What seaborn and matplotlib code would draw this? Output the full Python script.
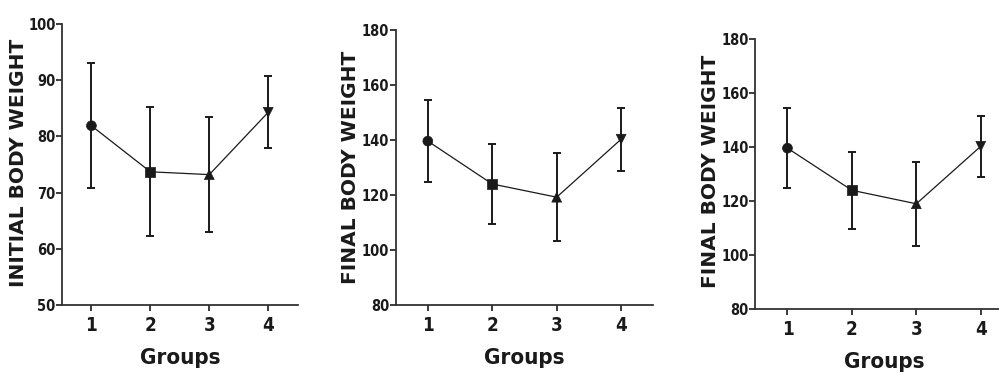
"""
Body weight per group: initial vs final (mean ± SD), three panels.
"""

import matplotlib
matplotlib.use("Agg")
import matplotlib.pyplot as plt
import seaborn as sns
import pandas as pd

groups = [1, 2, 3, 4]
group_markers = {1: "o", 2: "s", 3: "^", 4: "v"}

initial_mean = [81.9, 73.7, 73.2, 84.3]
initial_sd = [11.1, 11.5, 10.3, 6.4]

final_mean = [139.6, 124.0, 119.2, 140.3]
final_sd = [15.0, 14.5, 16.0, 11.4]

final_mean_b = [139.6, 124.0, 119.0, 140.3]
final_sd_b = [14.8, 14.3, 15.6, 11.2]

panels = [
    ("INITIAL BODY WEIGHT", initial_mean, initial_sd, (50, 100), [50, 60, 70, 80, 90, 100]),
    ("FINAL BODY WEIGHT", final_mean, final_sd, (80, 180), [80, 100, 120, 140, 160, 180]),
    ("FINAL BODY WEIGHT", final_mean_b, final_sd_b, (80, 180), [80, 100, 120, 140, 160, 180]),
]

# axes boxes in figure fractions (left, bottom, width, height)
boxes = [
    (0.062, 0.189, 0.236, 0.747),
    (0.396, 0.189, 0.258, 0.731),
    (0.756, 0.178, 0.258, 0.718),
]
# y-label centres in figure pixels (x) and fractions (y)
ylabel_x = [19, 350, 710]
ylabel_y = [0.568, 0.556, 0.544]

sns.set_style("ticks")
plt.rcParams["font.family"] = ["DejaVu Sans"]

INK = "#1a1a1a"
COND = dict(family="DejaVu Sans", fontstretch="condensed", fontweight="bold", color=INK)

fig = plt.figure(figsize=(9.99, 3.76), dpi=100)

for (ylabel, means, sds, ylim, yticks), box, lx, ly in zip(panels, boxes, ylabel_x, ylabel_y):
    ax = fig.add_axes(box)
    df = pd.DataFrame({"group": groups, "weight": means, "sd": sds})

    ax.errorbar(df["group"], df["weight"], yerr=df["sd"], fmt="none",
                ecolor=INK, elinewidth=1.4, capsize=2.6, capthick=1.4, zorder=2)
    sns.lineplot(data=df, x="group", y="weight", ax=ax, color=INK,
                 linewidth=0.9, zorder=3)
    sns.scatterplot(data=df, x="group", y="weight", style="group",
                    markers=group_markers, s=50, color=INK, edgecolor=INK,
                    linewidth=0.5, legend=False, ax=ax, zorder=4)

    ax.set_xlim(0.5, 4.5)
    ax.set_ylim(*ylim)
    ax.set_xticks(groups)
    ax.set_yticks(yticks)
    ax.set_xticklabels([str(g) for g in groups], fontsize=13.5, **COND)
    ax.set_yticklabels([str(t) for t in yticks], fontsize=10.5, **COND)
    ax.tick_params(axis="both", direction="out", length=4, width=1.2,
                   colors=INK, pad=0.5)
    ax.tick_params(axis="x", pad=4)
    sns.despine(ax=ax)
    for side in ("left", "bottom"):
        ax.spines[side].set_linewidth(1.3)
        ax.spines[side].set_color("#333333")

    ax.set_xlabel("Groups", fontsize=16, labelpad=9, **COND)
    ax.set_ylabel("")
    fig.text(lx / 999, ly, ylabel, rotation=90, ha="center", va="center",
             fontsize=14.5, fontweight="bold", color=INK, family="DejaVu Sans")

fig.savefig("out.png", dpi=100)
